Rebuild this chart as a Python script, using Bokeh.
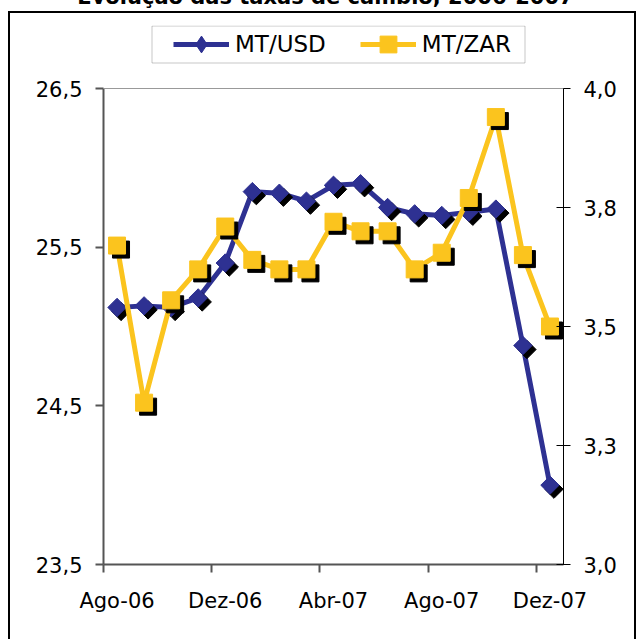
import math
from bokeh.plotting import figure
from bokeh.models import (Range1d, LinearAxis, FixedTicker, Legend, LegendItem,
                          BoxAnnotation, Label, Span, ColumnDataSource,
                          InlineStyleSheet)
from bokeh.transform import dodge
from bokeh.embed import file_html
from bokeh.resources import INLINE

# ---------------- data ----------------
months = ["Ago-06", "Set-06", "Out-06", "Nov-06", "Dez-06", "Jan-07", "Fev-07",
          "Mar-07", "Abr-07", "Mai-07", "Jun-07", "Jul-07", "Ago-07", "Set-07",
          "Out-07", "Nov-07", "Dez-07"]
mt_usd = [25.12, 25.13, 25.12, 25.18, 25.40, 25.85, 25.84, 25.79, 25.89, 25.90,
          25.75, 25.71, 25.70, 25.72, 25.74, 24.88, 24.00]
mt_zar = [3.67, 3.34, 3.555, 3.62, 3.71, 3.64, 3.62, 3.62, 3.72, 3.70,
          3.70, 3.62, 3.655, 3.77, 3.94, 3.65, 3.50]
usd_ticks = [23.5, 24.5, 25.5, 26.5]
usd_tick_labels = ["23,5", "24,5", "25,5", "26,5"]
zar_ticks = [3.0, 3.25, 3.5, 3.75, 4.0]
zar_tick_labels = ["3,0", "3,3", "3,5", "3,8", "4,0"]
title_text = "Evolução das taxas de câmbio, 2006-2007"
series_names = ["MT/USD", "MT/ZAR"]

# ---------------- style ----------------
NAVY = "#2E3192"
YELLOW = "#FBC41E"
FONT = "DejaVu Sans"
W, H = 636, 639
FT = 25            # top of the (extended) frame, px
PT = 88            # top of the plot area, px
PB = 564           # bottom of the plot area, px
BL, BR, BB = 103, 73, H - PB
FW = W - BL - BR
PH = PB - PT       # plot-area height

usd_span = usd_ticks[-1] - usd_ticks[0]
zar_span = zar_ticks[-1] - zar_ticks[0]
usd_top = usd_ticks[-1] + (PT - FT) * usd_span / PH
zar_top = zar_ticks[-1] + (PT - FT) * zar_span / PH

n = len(months)
x = [i + 0.5 for i in range(n)]
src = ColumnDataSource(dict(x=x, usd=mt_usd, zar=mt_zar))

p = figure(width=W, height=H, output_backend="svg", toolbar_location=None,
           x_range=Range1d(0, n), y_range=Range1d(usd_ticks[0], usd_top),
           min_border_left=BL, min_border_right=BR, min_border_top=FT,
           min_border_bottom=BB, background_fill_color="white",
           border_fill_color="white")
p.extra_y_ranges = {"zar": Range1d(zar_ticks[0], zar_top)}
p.xgrid.visible = False
p.ygrid.visible = False
p.outline_line_color = None

# outer chart border (decoration around the whole chart)
p.stylesheets = [InlineStyleSheet(css=(
    ":host::after { content: ''; position: absolute; left: 8px; top: 11px; "
    "width: 628px; height: 628px; box-sizing: border-box; "
    "border-style: solid; border-color: black; border-width: 2px 2px 0 2px; "
    "pointer-events: none; }"))]

# left axis
ya = p.yaxis[0]
ya.ticker = FixedTicker(ticks=usd_ticks)
ya.bounds = (usd_ticks[0], usd_ticks[-1])
ya.major_label_overrides = {t: l for t, l in zip(usd_ticks, usd_tick_labels)}
ya.axis_line_color = "#555555"
ya.axis_line_width = 2
ya.major_tick_line_color = "#555555"
ya.major_tick_line_width = 2
ya.major_tick_out = 8
ya.major_tick_in = 0
ya.minor_tick_line_color = None
ya.major_label_standoff = 13
ya.major_label_text_font = FONT
ya.major_label_text_font_size = "21px"
ya.major_label_text_color = "black"

# right axis
ra = LinearAxis(y_range_name="zar", ticker=FixedTicker(ticks=zar_ticks),
                bounds=(zar_ticks[0], zar_ticks[-1]))
ra.major_label_overrides = {t: l for t, l in zip(zar_ticks, zar_tick_labels)}
ra.axis_line_color = "black"
ra.axis_line_width = 1
ra.major_tick_line_color = "black"
ra.major_tick_out = 7
ra.major_tick_in = 7
ra.minor_tick_line_color = None
ra.major_label_standoff = 13
ra.major_label_text_font = FONT
ra.major_label_text_font_size = "21px"
ra.major_label_text_color = "black"
p.add_layout(ra, "right")

# top border of the plot area
p.add_layout(Span(location=usd_ticks[-1], dimension="width",
                  line_color="#999999", line_width=1))

# bottom axis
label_pos = [i + 0.5 for i in range(0, n, 4)]
tick_pos = [i for i in range(0, n, 4)]
xa = p.xaxis[0]
xa.ticker = FixedTicker(ticks=label_pos, minor_ticks=tick_pos)
xa.major_label_overrides = {pos: months[int(pos)] for pos in label_pos}
xa.axis_line_color = "#555555"
xa.axis_line_width = 2
xa.major_tick_out = 0
xa.major_tick_in = 0
xa.major_tick_line_color = None
xa.minor_tick_line_color = "#555555"
xa.minor_tick_line_width = 2
xa.minor_tick_out = 8
xa.minor_tick_in = 0
xa.major_label_standoff = 16
xa.major_label_text_font = FONT
xa.major_label_text_font_size = "21px"
xa.major_label_text_color = "black"

# shadow offsets (4 px)
dx = 4 * n / FW
dy_usd = 4 * usd_span / PH
dy_zar = 4 * zar_span / PH

# MT/USD
usd_line = p.line("x", "usd", source=src, line_color=NAVY, line_width=5)
p.scatter(x=dodge("x", dx), y=dodge("usd", -dy_usd), source=src, marker="square",
          angle=math.pi / 4, size=13, color="black")
p.scatter("x", "usd", source=src, marker="square", angle=math.pi / 4, size=13,
          color=NAVY)

# MT/ZAR
zar_line = p.line("x", "zar", source=src, line_color=YELLOW, line_width=5,
                  y_range_name="zar")
p.scatter(x=dodge("x", dx), y=dodge("zar", -dy_zar), source=src, marker="square",
          size=17, color="black", y_range_name="zar")
p.scatter("x", "zar", source=src, marker="square", size=17, color=YELLOW,
          y_range_name="zar")

# legend-only marker renderers (a single undrawn NaN point each)
leg_d = p.scatter(x=[math.nan], y=[math.nan], marker="diamond", color=NAVY)
leg_s = p.scatter(x=[math.nan], y=[math.nan], marker="square", color=YELLOW)

# legend box
p.add_layout(BoxAnnotation(left=151.5, right=524.5, top=25.5, bottom=62.5,
                           left_units="canvas", right_units="canvas",
                           top_units="canvas", bottom_units="canvas",
                           fill_alpha=0, line_color="#444444", line_width=1))

GH = 42
LEG_CY = 43.5
leg = Legend(items=[LegendItem(label=series_names[0], renderers=[usd_line, leg_d]),
                    LegendItem(label=series_names[1], renderers=[zar_line, leg_s])],
             location=(173 - BL, PB - (LEG_CY + GH / 2)),
             orientation="horizontal", glyph_width=56, glyph_height=GH,
             padding=0, spacing=34, label_standoff=6, label_text_font=FONT,
             label_text_font_size="23px", label_text_color="black",
             border_line_alpha=0, background_fill_alpha=0)
p.add_layout(leg)

# title (partly cut off at top as in the reference)
p.add_layout(Label(x=325, y=-4, x_units="canvas", y_units="canvas", text=title_text,
                   text_align="center", text_baseline="alphabetic",
                   text_font=FONT, text_font_style="bold", text_font_size="21px",
                   text_color="black"), "above")

open("out.html", "w").write(file_html(p, INLINE))
